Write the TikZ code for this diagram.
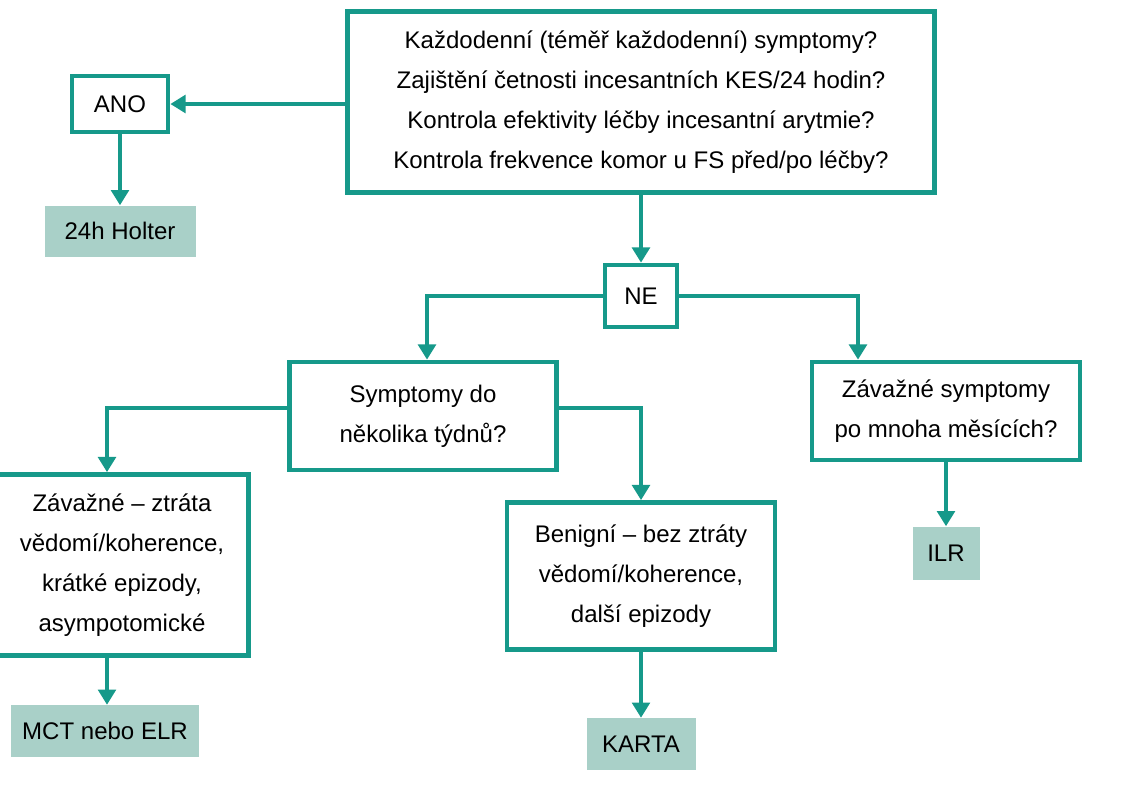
\documentclass[tikz,border=0pt]{standalone}
\usepackage{fontspec}
\setmainfont{Liberation Sans}
\usetikzlibrary{arrows.meta}
\definecolor{tl}{HTML}{16998A}
\definecolor{fl}{HTML}{A9D0C8}
\begin{document}
\begin{tikzpicture}[x=0.03cm,y=-0.03cm,
 box/.style={draw=tl,line width=4pt,fill=white,align=center,font=\fontsize{20.5}{34}\selectfont,inner sep=0pt},
 res/.style={fill=fl,align=center,font=\fontsize{20.5}{24}\selectfont,inner sep=0pt},
 ar/.style={draw=tl,line width=3.5pt,-{Triangle[length=13pt,width=15pt]}}]
\useasboundingbox (0,0) rectangle (1141,800);
\node[box,minimum width=587*0.03cm,minimum height=181*0.03cm] (top) at (641,102) {Každodenní (téměř každodenní) symptomy?\\Zajištění četnosti incesantních KES/24 hodin?\\Kontrola efektivity léčby incesantní arytmie?\\Kontrola frekvence komor u FS před/po léčby?};
\node[box,minimum width=96*0.03cm,minimum height=56*0.03cm] (ano) at (120,104) {ANO};
\node[res,minimum width=151*0.03cm,minimum height=51*0.03cm] (hol) at (120,231) {24h Holter};
\node[box,minimum width=72*0.03cm,minimum height=62*0.03cm] (ne) at (641,296) {NE};
\node[box,minimum width=267*0.03cm,minimum height=108*0.03cm] (sym) at (423,416) {Symptomy do\\několika týdnů?};
\node[box,minimum width=268*0.03cm,minimum height=98*0.03cm] (zav) at (946,411) {Závažné symptomy\\po mnoha měsících?};
\node[box,minimum width=253*0.03cm,minimum height=181*0.03cm] (ztr) at (122,565) {Závažné – ztráta\\vědomí/koherence,\\krátké epizody,\\asympotomické};
\node[box,minimum width=268*0.03cm,minimum height=147*0.03cm] (ben) at (641,576) {Benigní – bez ztráty\\vědomí/koherence,\\další epizody};
\node[res,minimum width=188*0.03cm,minimum height=52*0.03cm] (mct) at (105,731) {MCT nebo ELR};
\node[res,minimum width=109*0.03cm,minimum height=52*0.03cm] (kar) at (641,744) {KARTA};
\node[res,minimum width=67*0.03cm,minimum height=53*0.03cm] (ilr) at (946,553) {ILR};
\draw[ar] (top.west|-ano) -- (ano.east);
\draw[ar] (ano) -- (hol);
\draw[ar] (top) -- (ne);
\draw[ar] (ne.west) -| (sym.north-|427,0);
\draw[ar] (ne.east) -| (zav.north-|858,0);
\draw[ar] (sym.west|-0,408) -| (ztr.north-|107,0);
\draw[ar] (sym.east|-0,408) -| (ben.north-|641,0);
\draw[ar] (ztr.south-|107,0) -- (mct.north-|107,0);
\draw[ar] (ben) -- (kar);
\draw[ar] (zav) -- (ilr);
\end{tikzpicture}
\end{document}
